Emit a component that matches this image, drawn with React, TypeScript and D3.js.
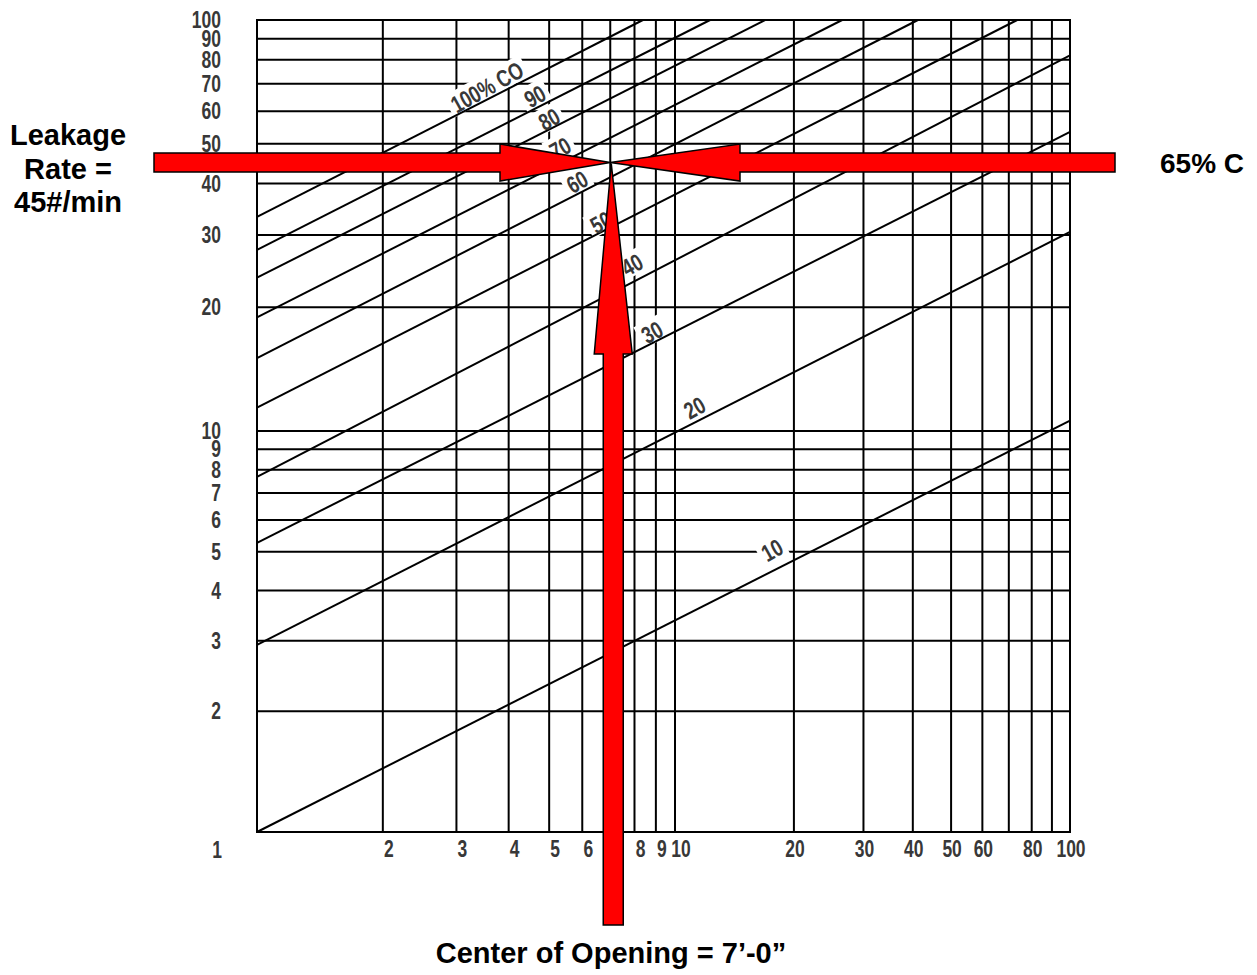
import React from "react";
import * as d3 from "d3";

// ---- data ----
const gridValues = [2, 3, 4, 5, 6, 7, 8, 9, 10, 20, 30, 40, 50, 60, 70, 80, 90];
const yTickValues = [100, 90, 80, 70, 60, 50, 40, 30, 20, 10, 9, 8, 7, 6, 5, 4, 3, 2];
const xTickValues = [2, 3, 4, 5, 6, 7, 8, 9, 10, 20, 30, 40, 50, 60, 80, 100];
const originLabel = "1";

const curveLabels = ["10", "20", "30", "40", "50", "60", "70", "80", "90", "100% CO"];
const curveStartX = [1, 1, 1, 1, 1, 1, 1, 1, 1, 1];
const curveStartY = [1.0, 2.93, 5.26, 7.68, 11.4, 15.05, 18.9, 23.6, 27.6, 33.2];
const curveEndX = [100, 100, 100, 100, 73.5, 41.2, 26.5, 16.9, 12.27, 8.38];
const curveEndY = [10.6, 30.5, 53.4, 82, 100, 100, 100, 100, 100, 100];
const labelAtX = [17.6, 11.2, 8.81, 7.89, 6.65, 5.83, 5.31, 5.0, 4.62, 3.55];
const labelAtY = [5.05, 11.4, 17.4, 25.4, 32.2, 40.4, 48.8, 57.4, 65.3, 68.7];

const targetHeight = 7; // ft
const targetLeakage = 45; // #/min

const leftText = ["Leakage", "Rate =", "45#/min"];
const rightText = "65% C";
const bottomText = "Center of Opening = 7\u2019-0\u201D";

// ---- layout ----
const W = 1257;
const H = 975;
const x = d3.scaleLog().domain([1, 10, 100]).range([257, 675, 1070]);
const y = d3.scaleLog().domain([1, 10, 100]).range([832, 431, 20]);

const FONT = "'Liberation Sans', Arial, Helvetica, sans-serif";
const NARROW = 0.76;
const LABEL_GRAY = "#383838";

function narrowWidth(s: string, size: number) {
  let w = 0;
  for (const c of s) {
    if (/[0-9]/.test(c)) w += 0.556;
    else if (c === "%") w += 0.889;
    else if (c === " ") w += 0.278;
    else if (c === "C") w += 0.722;
    else if (c === "O") w += 0.778;
    else w += 0.6;
  }
  return w * size * NARROW;
}

export default function App() {
  const x0 = x(1), x1 = x(100), y0 = y(1), y1 = y(100);
  const line = d3
    .line<[number, number]>()
    .x((d) => x(d[0]))
    .y((d) => y(d[1]));

  const tx = x(targetHeight);
  const ty = y(targetLeakage);
  const angle = -29;
  const labelSize = 24;
  const tickSize = 23;

  const shaftH = 9.5, headH = 18.5;
  const leftArrow = [
    [154, ty - shaftH], [500, ty - shaftH], [500, ty - headH], [tx, ty],
    [500, ty + headH], [500, ty + shaftH], [154, ty + shaftH],
  ];
  const rightArrow = [
    [1115, ty - shaftH], [740, ty - shaftH], [740, ty - headH], [tx, ty],
    [740, ty + headH], [740, ty + shaftH], [1115, ty + shaftH],
  ];
  const vx = tx + 3;
  const upArrow = [
    [vx - 10, 925], [vx - 10, 354], [vx - 19, 354], [tx + 1, ty + 1],
    [vx + 19, 354], [vx + 10, 354], [vx + 10, 925],
  ];
  const pts = (p: number[][]) => p.map((q) => q.join(",")).join(" ");

  return (
    <svg
      width={W}
      height={H}
      style={{ position: "absolute", left: 0, top: 0, background: "#fff" }}
    >
      <rect x={0} y={0} width={W} height={H} fill="#fff" />
      {/* grid */}
      <g stroke="#000" strokeWidth={2}>
        {gridValues.map((v) => (
          <line key={"h" + v} x1={x0} x2={x1} y1={y(v)} y2={y(v)} />
        ))}
        {gridValues.map((v) => (
          <line key={"v" + v} x1={x(v)} x2={x(v)} y1={y1} y2={y0} />
        ))}
        <rect x={x0} y={y1} width={x1 - x0} height={y0 - y1} fill="none" />
      </g>
      {/* label knockouts */}
      <g fill="#fff">
        {curveLabels.map((s, i) => {
          const w = narrowWidth(s, labelSize) + 8;
          return (
            <rect
              key={"k" + i}
              x={-w / 2}
              y={-13}
              width={w}
              height={24}
              transform={`translate(${x(labelAtX[i])},${y(labelAtY[i])}) rotate(${angle})`}
            />
          );
        })}
      </g>
      {/* curves */}
      <g stroke="#000" strokeWidth={2} fill="none">
        {curveLabels.map((s, i) => (
          <path
            key={"c" + i}
            d={line([
              [curveStartX[i], curveStartY[i]],
              [curveEndX[i], curveEndY[i]],
            ]) || ""}
          />
        ))}
      </g>
      {/* curve labels */}
      <g fill={LABEL_GRAY} fontFamily={FONT} fontWeight="bold" fontSize={labelSize}>
        {curveLabels.map((s, i) => (
          <text
            key={"l" + i}
            textAnchor="middle"
            dy="0.36em"
            transform={`translate(${x(labelAtX[i])},${y(labelAtY[i])}) rotate(${angle}) scale(${NARROW},1)`}
          >
            {s}
          </text>
        ))}
      </g>
      {/* tick labels */}
      <g fill={LABEL_GRAY} fontFamily={FONT} fontWeight="bold" fontSize={tickSize}>
        {yTickValues.map((v) => (
          <text
            key={"yt" + v}
            textAnchor="end"
            dy="0.35em"
            transform={`translate(221,${y(v)}) scale(${NARROW},1)`}
          >
            {v}
          </text>
        ))}
        {xTickValues.map((v) => (
          <text
            key={"xt" + v}
            textAnchor="middle"
            dy="0.35em"
            transform={`translate(${x(v) + (v <= 10 ? 6 : 1)},849) scale(${NARROW},1)`}
          >
            {v}
          </text>
        ))}
        <text textAnchor="middle" dy="0.35em" transform={`translate(217,850) scale(${NARROW},1)`}>
          {originLabel}
        </text>
      </g>
      {/* arrows */}
      <g fill="#ff0000" stroke="#000" strokeWidth={1.5} strokeLinejoin="miter">
        <polygon points={pts(leftArrow)} />
        <polygon points={pts(rightArrow)} />
        <polygon points={pts(upArrow)} />
      </g>
      {/* annotations */}
      <g fill="#000" fontFamily={FONT} fontWeight="bold" fontSize={29}>
        {leftText.map((s, i) => (
          <text key={"lt" + i} x={68} y={145 + i * 33.5} textAnchor="middle">
            {s}
          </text>
        ))}
        <text x={1160} y={173} fontSize={28}>{rightText}</text>
        <text x={611} y={963} textAnchor="middle">{bottomText}</text>
      </g>
    </svg>
  );
}
